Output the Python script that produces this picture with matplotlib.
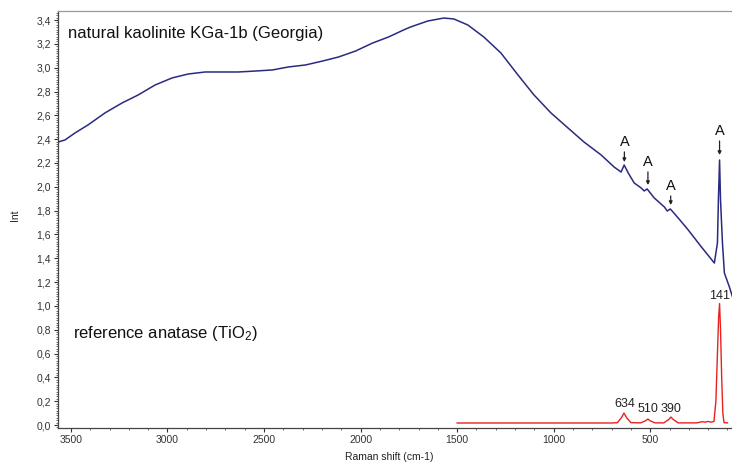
import matplotlib
matplotlib.use("Agg")
import matplotlib.pyplot as plt
from matplotlib.ticker import MultipleLocator, FuncFormatter

plt.rcParams['font.family'] = ['Liberation Sans', 'DejaVu Sans']
plt.rcParams['mathtext.fontset'] = 'custom'
plt.rcParams['mathtext.rm'] = 'Liberation Sans'
plt.rcParams['mathtext.it'] = 'Liberation Sans:italic'

# natural kaolinite spectrum (Raman shift cm-1, intensity)
kaol_x = [3567, 3531, 3479, 3412, 3324, 3235, 3152, 3064, 2976, 2893, 2805,
          2716, 2633, 2545, 2457, 2374, 2285, 2197, 2114, 2026, 1938, 1855,
          1777, 1741, 1652, 1569, 1517, 1445, 1362, 1273, 1185, 1102, 1014,
          926, 843, 754, 687, 651, 635, 614, 583, 547, 531, 516, 479, 427,
          412, 396, 355, 303, 235, 168, 152, 147, 141, 136, 126, 116, 90, 69]
kaol_y = [2.376, 2.393, 2.452, 2.519, 2.620, 2.704, 2.771, 2.855, 2.914,
          2.947, 2.964, 2.964, 2.964, 2.972, 2.981, 3.006, 3.023, 3.056,
          3.090, 3.140, 3.207, 3.258, 3.317, 3.342, 3.392, 3.417, 3.409,
          3.359, 3.258, 3.123, 2.939, 2.771, 2.620, 2.494, 2.376, 2.267,
          2.166, 2.124, 2.183, 2.116, 2.032, 1.990, 1.965, 1.982, 1.906,
          1.831, 1.797, 1.814, 1.738, 1.637, 1.495, 1.360, 1.528, 1.890,
          2.225, 1.890, 1.528, 1.276, 1.159, 1.050]

# reference anatase spectrum
anat_x = [1500, 700, 670, 650, 636, 622, 600, 550, 525, 512, 500, 475, 430,
          405, 393, 380, 355, 260, 230, 215, 200, 185, 170, 160, 152, 146,
          141, 136, 130, 124, 118, 100]
anat_y = [0.017, 0.017, 0.020, 0.060, 0.100, 0.060, 0.020, 0.018, 0.035,
          0.050, 0.035, 0.018, 0.018, 0.045, 0.067, 0.045, 0.018, 0.018,
          0.028, 0.024, 0.030, 0.024, 0.030, 0.200, 0.600, 0.900, 1.020,
          0.800, 0.400, 0.100, 0.020, 0.018]

# anatase band labels on reference spectrum
band_labels = ["634", "510", "390", "141"]
band_x = [634, 510, 390, 141]
band_label_y = [0.176, 0.134, 0.134, 1.083]

# "A" markers on kaolinite spectrum
a_x = [634, 512, 394, 141]
a_text_y = [2.375, 2.207, 2.005, 2.467]
a_tip_y = [2.208, 2.015, 1.847, 2.267]

fig = plt.figure(figsize=(7.32, 4.63), dpi=100)
ax = fig.add_axes([58/732, 35/463, 1 - 58/732 + 0.002, 417/463])

ax.plot(kaol_x, kaol_y, color='#2a2a80', lw=1.1)
ax.plot(anat_x, anat_y, color='#e8211f', lw=1.0)

for lab, x, y in zip(band_labels, band_x, band_label_y):
    ax.text(x, y, lab, ha='center', va='center', fontsize=9, color='#222222')

for x, ty, tp in zip(a_x, a_text_y, a_tip_y):
    ax.annotate('A', xy=(x, tp), xytext=(x, ty), ha='center', va='center',
                fontsize=10.5, color='#111111',
                arrowprops=dict(arrowstyle='-|>', color='#222222', lw=0.9,
                                mutation_scale=5, shrinkA=0, shrinkB=0))

ax.text(3516, 3.29, 'natural kaolinite KGa-1b (Georgia)', ha='left', va='center',
        fontsize=12, color='#111111')
ax.text(3490, 0.772, 'reference anatase (TiO$_2$)', ha='left', va='center',
        fontsize=12, color='#111111')

ax.set_xlim(3567, 69)
ax.set_ylim(-0.025, 3.476)

ax.xaxis.set_major_locator(MultipleLocator(500))
ax.xaxis.set_minor_locator(MultipleLocator(100))
ax.yaxis.set_major_locator(MultipleLocator(0.2))
ax.yaxis.set_minor_locator(MultipleLocator(0.02))
ax.xaxis.set_major_formatter(FuncFormatter(lambda v, p: f"{v:.0f}"))
ax.yaxis.set_major_formatter(FuncFormatter(lambda v, p: f"{v:.1f}".replace('.', ',')))

ax.tick_params(axis='both', which='major', direction='out', length=3, width=0.8,
               labelsize=7.5, colors='#333333', pad=2)
ax.tick_params(axis='both', which='minor', direction='out', length=1.5, width=0.6,
               colors='#555555')

for s in ['left', 'bottom']:
    ax.spines[s].set_color('#444444')
    ax.spines[s].set_linewidth(0.9)
ax.spines['top'].set_color('#999999')
ax.spines['top'].set_linewidth(0.9)
ax.spines['right'].set_visible(False)

fig.text(15/732, 1 - 215/463, 'Int', rotation=90, ha='center', va='center',
         fontsize=7.5, color='#222222')
fig.text(389/732, 1 - 457/463, 'Raman shift (cm-1)', ha='center', va='center',
         fontsize=7.5, color='#222222')

fig.savefig('out.png', dpi=100)
